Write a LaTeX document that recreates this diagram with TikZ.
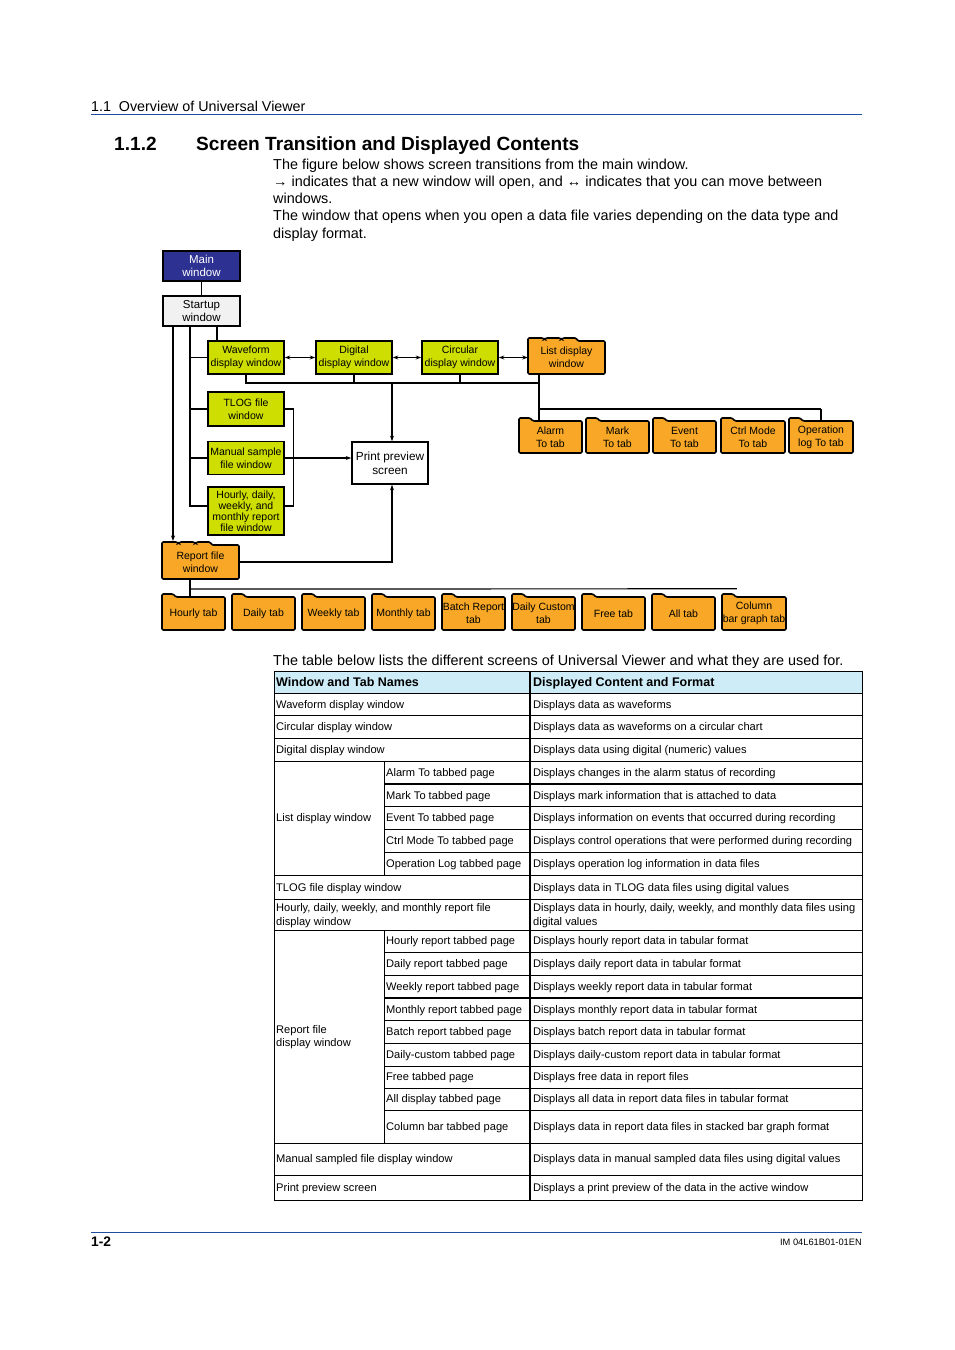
\documentclass[tikz,border=0pt]{standalone}
\usepackage{fontspec}
\setmainfont{Liberation Sans}
\usetikzlibrary{arrows.meta,calc}
\definecolor{navyC}{RGB}{45,49,146}
\definecolor{limeC}{RGB}{205,222,0}
\definecolor{orangeC}{RGB}{248,168,38}
\definecolor{grayC}{RGB}{241,241,241}
\definecolor{hdrC}{RGB}{205,236,248}
\definecolor{ruleC}{RGB}{31,78,160}
\newcommand{\diagfont}{\fontsize{10.5}{13}\selectfont}
\newcommand{\cellfont}{\fontsize{11.1}{13.5}\selectfont}
\newcommand{\bodyfont}{\fontsize{14.4}{17.3}\selectfont}
\tikzset{
 box/.style={draw=black, line width=1.6pt, align=center, inner sep=0pt, font=\diagfont},
 limebox/.style={box, fill=limeC, minimum width=76pt, minimum height=33pt},
 tabtext/.style={align=center, inner sep=0pt, font=\diagfont},
 conn/.style={line width=1.2pt},
 tconn/.style={line width=1.9pt},
 arr/.style={-{Stealth[length=5.5pt,width=4pt]}},
 darr/.style={{Stealth[length=5.5pt,width=4pt]}-{Stealth[length=5.5pt,width=4pt]}},
 folderline/.style={fill=orangeC, draw=black, line width=1.6pt, rounded corners=1.2pt},
 tline/.style={line width=0.8pt},
 tthick/.style={line width=1.6pt},
 cell/.style={anchor=base west, inner sep=0pt, font=\cellfont},
 hcell/.style={anchor=base west, inner sep=0pt, font=\bfseries\fontsize{12.5}{15}\selectfont},
 bodytext/.style={anchor=base west, inner sep=0pt, font=\bodyfont},
}
% name, x0, y0, x1, y1, text
\newcommand{\onetab}[6]{%
 \path[folderline] (#2,#5) -- (#2,#3-3) -- (#2+11,#3-3) -- (#2+14,#3) -- (#4,#3) -- (#4,#5) -- cycle;
 \node[tabtext, minimum width={#4-#2}, minimum height={#5-#3}] (#1) at ({(#2+#4)/2},{(#3+#5)/2}) {#6};}
\newcommand{\multitab}[6]{%
 \path[folderline] (#2,#5) -- (#2,#3-3) -- (#2+15,#3-3) -- (#2+16.5,#3-1.5) -- (#2+18,#3-3) -- (#2+32,#3-3) -- (#2+33.5,#3-1.5) -- (#2+35,#3-3) -- (#2+48,#3-3) -- (#2+50,#3) -- (#4,#3) -- (#4,#5) -- cycle;
 \node[tabtext, minimum width={#4-#2}, minimum height={#5-#3}] (#1) at ({(#2+#4)/2},{(#3+#5)/2}) {#6};}
% name, x, baseline, text
\newcommand{\tc}[4]{\node[cell] (#1) at (#2,#3) {#4};}
\begin{document}
\begin{tikzpicture}[x=1pt,y=-1pt]
\useasboundingbox (0,0) rectangle (954,1350);
\fill[white] (0,0) rectangle (954,1350);

% ---------- header ----------
\node[anchor=base west, inner sep=0pt, font=\fontsize{14.3}{16}\selectfont] (hdr) at (91,111.5) {1.1\hspace{0.55em}Overview of Universal Viewer};
\draw[ruleC, line width=1pt] (91,114.5) -- (862,114.5);
\node[anchor=base west, inner sep=0pt, font=\bfseries\fontsize{19.1}{22}\selectfont] (secnum) at (114,150) {1.1.2};
\node[anchor=base west, inner sep=0pt, font=\bfseries\fontsize{19.1}{22}\selectfont] (sectitle) at (196,150) {Screen Transition and Displayed Contents};
\node[bodytext] (b1) at (273,169) {The figure below shows screen transitions from the main window.};
\node[bodytext] (b2) at (273,186.3) {→ indicates that a new window will open, and ↔ indicates that you can move between};
\node[bodytext] (b3) at (273,203.6) {windows.};
\node[bodytext] (b4) at (273,220.9) {The window that opens when you open a data file varies depending on the data type and};
\node[bodytext] (b5) at (273,238.2) {display format.};

% ---------- diagram ----------
\node[box, fill=navyC, text=white, minimum width=77pt, minimum height=30pt, font=\fontsize{11.5}{13.5}\selectfont] (main) at (201.5,266) {Main\\window};
\node[box, fill=grayC, minimum width=77pt, minimum height=30pt, font=\fontsize{11.5}{13.5}\selectfont] (startup) at (201.5,311) {Startup\\window};

\node[limebox] (wave) at (246,357.5) {Waveform\\display window};
\node[limebox] (digital) at (354,357.5) {Digital\\display window};
\node[limebox] (circular) at (460,357.5) {Circular\\display window};
\multitab{list}{528}{341}{605}{374}{List display\\window}

\node[limebox, minimum height=34pt] (tlog) at (246,409) {TLOG file\\window};
\node[limebox] (manual) at (246,458) {Manual sample\\file window};
\node[limebox, minimum height=48pt, font=\fontsize{10.5}{11}\selectfont] (hourly) at (246,511) {Hourly, daily,\\weekly, and\\monthly report\\file window};
\node[box, fill=white, minimum width=76pt, minimum height=42pt, font=\fontsize{11.8}{14}\selectfont] (print) at (390,463) {Print preview\\screen};

\multitab{report}{162}{545}{239}{579}{Report file\\window}

\onetab{alarm}{519}{421}{582}{453}{Alarm\\To tab}
\onetab{mark}{586}{421}{649}{453}{Mark\\To tab}
\onetab{event}{653}{421}{716}{453}{Event\\To tab}
\onetab{ctrl}{721}{421}{785}{453}{Ctrl Mode\\To tab}
\onetab{oplog}{789}{421}{853}{453}{Operation\\log To tab}

\onetab{thourly}{162}{597}{225}{630}{Hourly tab}
\onetab{tdaily}{232}{597}{295}{630}{Daily tab}
\onetab{tweekly}{302}{597}{365}{630}{Weekly tab}
\onetab{tmonthly}{372}{597}{435}{630}{Monthly tab}
\onetab{tbatch}{442}{597}{505}{630}{Batch Report\\tab}
\onetab{tdcustom}{512}{597}{575}{630}{Daily Custom\\tab}
\onetab{tfree}{582}{597}{645}{630}{Free tab}
\onetab{tall}{652}{597}{715}{630}{All tab}
\onetab{tcolumn}{722}{597}{786}{630}{Column\\bar graph tab}

% junction coordinates
\coordinate (sA) at (173,326);
\coordinate (sB) at (190,326);
\coordinate (sC) at (217,326);
\coordinate (rA) at (173,541);
\coordinate (wbus) at (539,383);
\coordinate (pj) at (392,383);
\coordinate (lbus) at (539,409);
\coordinate (rbus) at (190,589);

% connectors
\draw[conn] (main) -- (startup);
\draw[conn, arr] (sA) -- (rA);
\draw[conn] (sB) |- ($(hourly.west)+(0,-5)$);
\draw[tconn] (sC) -- (sC |- wave.north);
\draw[tconn] (wave.west) -- (wave.west -| sB);
\draw[tconn] (tlog.west) -- (tlog.west -| sB);
\draw[tconn] (manual.west) -- (manual.west -| sB);
\draw[conn] (tlog.east) -| ($(hourly.east)+(9,-5)$) -- ($(hourly.east)+(0,-5)$);
\draw[conn, arr] (manual.east) -- (manual.east -| print.west);

\draw[tconn, darr] (wave.east) -- (digital.west);
\draw[conn, darr] (digital.east) -- (circular.west);
\draw[tconn, darr] (circular.east) -- (list.west);

\draw[conn] (wave.south) |- (wbus);
\draw[conn] (digital.south) -- (digital.south |- wbus);
\draw[conn] (circular.south) -- (circular.south |- wbus);
\draw[conn] (list.south -| wbus) -- (alarm.north -| wbus);
\draw[conn] (lbus) -- (lbus -| oplog.north);
\draw[tconn] ($(mark.north west)+(18,0)$) -- ($(mark.north west)+(18,0)$ |- lbus);
\draw[conn] ($(event.north west)+(19,0)$) -- ($(event.north west)+(19,0)$ |- lbus);
\draw[conn] ($(ctrl.north west)+(17,0)$) -- ($(ctrl.north west)+(17,0)$ |- lbus);
\draw[tconn] (oplog.north) -- (oplog.north |- lbus);
\draw[tconn, arr] (pj) -- (pj |- print.north);

\draw[tconn, arr] (report.east) -| (pj |- print.south);
\draw[conn] (report.south -| rbus) -- (thourly.north -| rbus);
\draw[conn] (rbus) -- ($(tcolumn.north west)+(15,-8)$);
\foreach \n/\d in {tdaily/17,tweekly/17,tmonthly/17,tbatch/17,tdcustom/17,tfree/16,tall/16,tcolumn/15}{
  \draw[conn] ($(\n.north west)+(\d,0)$) -- ($(\n.north west)+(\d,0)$ |- rbus);
}

% ---------- table ----------
\node[bodytext] (tintro) at (273,665) {The table below lists the different screens of Universal Viewer and what they are used for.};
\fill[hdrC] (274,671) rectangle (862,693);
\foreach \y in {693,715,738,761,875,899,930,1143,1175}{\draw[tline] (274,\y) -- (862,\y);}
\foreach \y in {806,829,852,952,975,1020,1043,1066,1088,1110}{\draw[tline] (384,\y) -- (862,\y);}
\draw[tthick] (384,784) -- (862,784);
\draw[tthick] (384,998) -- (862,998);
\draw[tline] (384,761) -- (384,875);
\draw[tline] (384,930) -- (384,1143);
\draw[line width=1.4pt] (530,671) -- (530,1200);
\draw[tline] (274,671) rectangle (862,1200);

\node[hcell] (h1) at (276,686.5) {Window and Tab Names};
\node[hcell] (h2) at (533,686.5) {Displayed Content and Format};

\tc{c1}{276}{708}{Waveform display window}
\tc{d1}{533}{708}{Displays data as waveforms}
\tc{c2}{276}{730.5}{Circular display window}
\tc{d2}{533}{730.5}{Displays data as waveforms on a circular chart}
\tc{c3}{276}{753.5}{Digital display window}
\tc{d3}{533}{753.5}{Displays data using digital (numeric) values}
\tc{c4}{276}{821.5}{List display window}
\tc{s41}{386}{776.5}{Alarm To tabbed page}
\tc{d41}{533}{776.5}{Displays changes in the alarm status of recording}
\tc{s42}{386}{799}{Mark To tabbed page}
\tc{d42}{533}{799}{Displays mark information that is attached to data}
\tc{s43}{386}{821.5}{Event To tabbed page}
\tc{d43}{533}{821.5}{Displays information on events that occurred during recording}
\tc{s44}{386}{844.5}{Ctrl Mode To tabbed page}
\tc{d44}{533}{844.5}{Displays control operations that were performed during recording}
\tc{s45}{386}{867.5}{Operation Log tabbed page}
\tc{d45}{533}{867.5}{Displays operation log information in data files}
\tc{c5}{276}{891}{TLOG file display window}
\tc{d5}{533}{891}{Displays data in TLOG data files using digital values}
\tc{c6a}{276}{911}{Hourly, daily, weekly, and monthly report file}
\tc{c6b}{276}{925}{display window}
\tc{d6a}{533}{911}{Displays data in hourly, daily, weekly, and monthly data files using}
\tc{d6b}{533}{925}{digital values}
\tc{c7a}{276}{1033}{Report file}
\tc{c7b}{276}{1046}{display window}
\tc{s71}{386}{944.5}{Hourly report tabbed page}
\tc{d71}{533}{944.5}{Displays hourly report data in tabular format}
\tc{s72}{386}{967.5}{Daily report tabbed page}
\tc{d72}{533}{967.5}{Displays daily report data in tabular format}
\tc{s73}{386}{990.5}{Weekly report tabbed page}
\tc{d73}{533}{990.5}{Displays weekly report data in tabular format}
\tc{s74}{386}{1013}{Monthly report tabbed page}
\tc{d74}{533}{1013}{Displays monthly report data in tabular format}
\tc{s75}{386}{1035.5}{Batch report tabbed page}
\tc{d75}{533}{1035.5}{Displays batch report data in tabular format}
\tc{s76}{386}{1058.5}{Daily-custom tabbed page}
\tc{d76}{533}{1058.5}{Displays daily-custom report data in tabular format}
\tc{s77}{386}{1080.5}{Free tabbed page}
\tc{d77}{533}{1080.5}{Displays free data in report files}
\tc{s78}{386}{1102.5}{All display tabbed page}
\tc{d78}{533}{1102.5}{Displays all data in report data files in tabular format}
\tc{s79}{386}{1130.5}{Column bar tabbed page}
\tc{d79}{533}{1130.5}{Displays data in report data files in stacked bar graph format}
\tc{c8}{276}{1162.5}{Manual sampled file display window}
\tc{d8}{533}{1162.5}{Displays data in manual sampled data files using digital values}
\tc{c9}{276}{1191.5}{Print preview screen}
\tc{d9}{533}{1191.5}{Displays a print preview of the data in the active window}

% ---------- footer ----------
\draw[ruleC, line width=1pt] (91,1232) -- (862,1232);
\node[anchor=base west, inner sep=0pt, font=\bfseries\fontsize{13.8}{16}\selectfont] (pg) at (91,1246) {1-2};
\node[anchor=base east, inner sep=0pt, font=\fontsize{9.3}{10}\selectfont] (docid) at (862,1245) {IM 04L61B01-01EN};
\end{tikzpicture}
\end{document}
